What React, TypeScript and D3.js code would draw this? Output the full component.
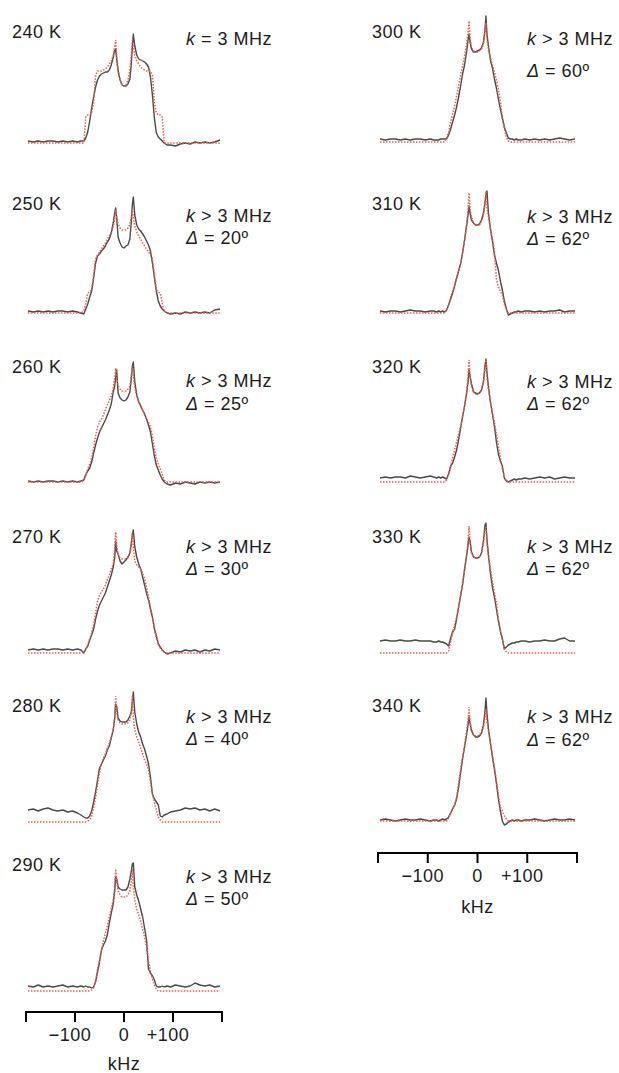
import React from "react";
import * as d3 from "d3";

// Frequency grid (kHz) shared by every spectrum
const kHz = [
  -196, -185, -175, -165, -155, -145, -135, -125, -115, -105, -95, -88,
  -82, -78, -74, -70, -66, -62, -58, -54, -50, -46, -42, -38, -34, -30, -26, -22,
  -19, -17, -15, -12, -8, -4, 0, 4, 8, 12, 15, 17, 19,
  22, 26, 30, 34, 38, 42, 46, 50, 54, 58, 62, 66, 70, 74, 78, 82,
  88, 95, 105, 115, 125, 135, 145, 155, 165, 175, 185, 196,
];

// Experimental spectra (grey) and simulations (red dotted), intensity in arbitrary units
const exp240 = [2,1,2,1,2,2,1,2,1,2,1,2, 2,5,11,22,35,46,56,63,67,69,70,71,71,73,78,86, 93,94,84,72,63,58,57,57,59,64,80,96,109, 97,88,84,83,82,81,79,76,66,48,25,10,6,4,2,0, -2,-2,-3,-1,0,-1,1,0,1,0,1,3];
const fit240 = [0,0,0,0,0,0,0,0,0,0,0,0, 0,26,28,28,30,40,68,72,72,72,73,74,76,79,82,88, 96,103,88,73,63,58,57,58,63,73,88,103,96, 88,82,79,76,74,73,72,72,72,68,40,30,28,28,26,0, 0,0,0,0,0,0,0,0,0,0,0,0];

const exp250 = [2,1,2,1,2,1,2,2,1,2,1,0, -1,4,9,16,22,35,50,57,59,62,64,67,71,74,80,90, 100,105,95,76,70,66,65,67,68,74,92,108,116, 98,88,84,82,79,76,72,68,62,50,36,22,12,7,4,2, 0,-1,0,-1,1,0,1,0,1,0,3,4];
const fit250 = [0,0,0,0,0,0,0,0,0,0,0,0, 2,10,20,21,23,38,54,58,61,64,67,70,74,77,81,87, 95,103,96,89,85,83,83,83,85,89,96,103,95, 87,81,77,74,70,67,64,61,58,54,38,23,21,20,10,2, 0,0,0,0,0,0,0,0,0,0,0,0];

const exp260 = [1,0,1,0,1,1,0,1,0,1,0,1, 2,7,11,14,20,29,37,44,50,54,58,62,67,72,78,90, 96,104,112,89,84,82,81,82,85,90,104,115,120, 100,87,80,76,72,68,63,57,50,38,26,17,12,7,3,0, -2,-3,-1,-2,0,-1,-2,0,-1,0,-1,0];
const fit260 = [0,0,0,0,0,0,0,0,0,0,0,0, 2,8,13,18,24,34,46,55,60,63,67,72,77,81,86,94, 104,114,104,96,93,91,91,91,93,96,106,116,106, 94,86,81,77,72,67,63,60,55,46,34,24,18,13,8,2, 0,0,0,0,0,0,0,0,0,0,0,0];

const exp270 = [3,4,3,4,3,4,4,3,4,3,4,3, 0,4,7,13,18,24,34,42,48,52,56,60,66,72,78,86, 95,112,102,99,92,89,91,93,96,100,110,118,123, 106,96,89,84,76,68,60,53,44,36,24,17,9,6,3,1, -1,0,2,1,3,2,3,1,3,2,4,3];
const fit270 = [0,0,0,0,0,0,0,0,0,0,0,0, 1,3,8,14,20,28,40,52,58,61,64,68,73,78,84,89, 105,121,108,99,95,94,94,94,95,99,108,121,105, 92,88,86,84,80,74,66,56,46,36,26,16,10,5,3,1, 0,0,0,0,0,0,0,0,0,0,0,0];

const exp280 = [12,13,11,13,14,12,11,12,10,11,9,7, 5,4,4,6,11,20,30,42,54,58,62,66,72,76,84,92, 104,118,116,104,101,100,100,100,102,106,110,120,130, 110,98,90,85,78,73,66,58,45,28,23,20,17,6,5,7, 8,10,11,12,14,13,14,12,13,11,13,11];
const fit280 = [0,0,0,0,0,0,0,0,0,0,0,0, 0,0,1,2,6,14,24,38,50,58,64,68,74,79,85,92, 105,126,110,102,99,98,98,98,99,102,110,126,105, 92,85,80,74,68,62,58,52,40,28,20,12,5,2,0,0, 0,0,0,0,0,0,0,0,0,0,0,0];

const exp290 = [5,4,6,4,5,4,5,6,4,5,4,5, 4,5,4,4,3,4,9,19,29,41,46,50,56,68,78,87, 100,114,112,104,102,101,101,101,104,112,120,127,128, 104,96,90,82,74,63,51,22,18,15,11,5,4,4,5,4, 5,4,6,5,4,5,8,6,5,6,4,5];
const fit290 = [0,0,0,0,0,0,0,0,0,0,0,0, 0,0,0,0,1,3,10,22,31,40,50,58,65,74,82,91, 104,122,110,100,96,94,94,94,96,100,110,122,104, 91,82,76,70,62,54,44,30,20,12,6,2,0,0,0,0, 0,0,0,0,0,0,0,0,0,0,0,0];

const exp300 = [3,2,3,3,2,3,2,3,3,2,3,2, 2,2,3,3,3,3,7,13,20,27,35,45,56,68,77,90, 102,108,100,93,90,90,91,92,94,100,112,126,108, 96,82,74,63,54,43,33,24,15,9,4,3,3,2,3,2, 2,3,2,3,2,3,2,3,4,3,2,3];
const fit300 = [0,0,0,0,0,0,0,0,0,0,0,0, 0,0,0,0,0,4,10,20,28,36,46,56,67,76,86,98, 110,121,104,95,91,90,90,91,93,98,110,119,104, 92,84,77,70,62,53,40,24,13,5,1,0,0,0,0,0, 0,0,0,0,0,0,0,0,0,0,0,0];

const exp310 = [2,1,2,2,1,2,3,2,2,1,2,2, 1,2,1,2,1,3,8,14,20,27,35,42,49,60,73,87, 98,107,100,93,90,88,88,89,93,100,110,118,122, 100,84,72,58,50,43,32,23,12,4,-2,-1,0,1,1,2, 1,2,2,1,2,1,2,2,3,1,2,2];
const fit310 = [0,0,0,0,0,0,0,0,0,0,0,0, 0,0,0,0,0,3,8,16,22,28,35,42,50,60,73,88, 104,120,104,96,90,88,88,88,92,98,108,122,106, 96,84,75,62,34,26,22,18,9,3,0,0,0,0,0,0, 0,0,0,0,0,0,0,0,0,0,0,0];

const exp320 = [4,5,4,5,5,4,6,5,4,5,6,5, 4,5,4,5,4,3,8,16,19,25,32,42,54,65,76,88, 100,112,106,98,90,89,88,89,92,100,116,123,110, 95,80,68,56,40,28,21,16,4,1,0,1,2,3,2,3, 3,4,3,4,5,4,5,3,4,5,4,4];
const fit320 = [0,0,0,0,0,0,0,0,0,0,0,0, 0,0,0,0,0,2,8,15,24,32,40,48,56,66,76,90, 106,122,106,96,90,88,88,89,92,100,112,122,104, 92,80,70,60,48,36,24,13,5,1,0,0,0,0,0,0, 0,0,0,0,0,0,0,0,0,0,0,0];

const exp330 = [12,13,12,12,13,12,12,13,12,12,12,11, 11,12,11,11,10,9,7,15,21,24,34,46,57,68,84,97, 108,116,112,101,96,95,95,96,100,112,128,130,114, 98,80,66,56,44,32,22,14,4,6,8,9,10,10,11,11, 12,12,11,12,12,13,12,12,14,15,12,12];
const fit330 = [0,0,0,0,0,0,0,0,0,0,0,0, 0,0,0,0,0,0,2,12,20,28,36,46,58,70,82,98, 112,127,110,100,96,95,95,96,100,110,122,127,110, 96,84,72,60,50,34,22,14,4,1,0,0,0,0,0,0, 0,0,0,0,0,0,0,0,0,0,0,0];

const exp340 = [1,2,1,0,1,2,1,1,2,1,0,1, 1,0,1,2,1,2,4,8,12,16,22,34,48,62,74,86, 96,104,98,90,86,84,84,85,88,96,110,123,108, 92,78,64,52,38,22,10,0,-4,-3,-1,0,1,0,1,1, 0,1,1,2,1,0,1,2,1,1,2,1];
const fit340 = [0,0,0,0,0,0,0,0,0,0,0,0, 0,0,0,0,0,0,3,8,12,16,24,38,52,64,76,90, 102,114,100,92,87,85,85,86,88,94,104,112,100, 90,78,66,54,40,26,14,10,5,2,0,0,0,0,0,0, 0,0,0,0,0,0,0,0,0,0,0,0];

const temperatures = ["240 K", "250 K", "260 K", "270 K", "280 K", "290 K", "300 K", "310 K", "320 K", "330 K", "340 K"];
const rateTexts = [" = 3 MHz", " > 3 MHz", " > 3 MHz", " > 3 MHz", " > 3 MHz", " > 3 MHz", " > 3 MHz", " > 3 MHz", " > 3 MHz", " > 3 MHz", " > 3 MHz"];
const deltaTexts = ["", " = 20º", " = 25º", " = 30º", " = 40º", " = 50º", " = 60º", " = 62º", " = 62º", " = 62º", " = 62º"];
const expSeries = [exp240, exp250, exp260, exp270, exp280, exp290, exp300, exp310, exp320, exp330, exp340];
const fitSeries = [fit240, fit250, fit260, fit270, fit280, fit290, fit300, fit310, fit320, fit330, fit340];

const tickValues = [-200, -100, 0, 100, 200];
const tickLabels = ["", "−100", "0", "+100", ""];
const axisTitle = "kHz";

// ---- layout (positions only) ----
const W = 619;
const H = 1073;
const columns = [
  { x0: 26, x1: 222, axisY: 1012, labelX: 12, textX: 186 },
  { x0: 378, x1: 577, axisY: 853, labelX: 372, textX: 527 },
];
const panelLayout = [
  { col: 0, base: 143, tY: 38, kY: 45, dY: 0 },
  { col: 0, base: 313, tY: 210, kY: 222, dY: 244 },
  { col: 0, base: 482, tY: 373, kY: 387, dY: 410 },
  { col: 0, base: 653, tY: 543, kY: 553, dY: 575 },
  { col: 0, base: 822, tY: 712, kY: 723, dY: 745 },
  { col: 0, base: 991, tY: 871, kY: 883, dY: 905 },
  { col: 1, base: 142, tY: 38, kY: 45, dY: 77 },
  { col: 1, base: 313, tY: 210, kY: 223, dY: 245 },
  { col: 1, base: 482, tY: 373, kY: 388, dY: 410 },
  { col: 1, base: 653, tY: 543, kY: 553, dY: 575 },
  { col: 1, base: 821, tY: 712, kY: 723, dY: 746 },
];

const FONT = "'Liberation Sans', Arial, Helvetica, sans-serif";
const TEXT_COLOR = "#1c1c1c";
const GREY = "#4a4a4a";
const RED = "#f25a48";

function Panel({ i }: { i: number }) {
  const L = panelLayout[i];
  const c = columns[L.col];
  const x = d3.scaleLinear().domain([-200, 200]).range([c.x0, c.x1]);
  const y = d3.scaleLinear().domain([0, 100]).range([L.base, L.base - 100]);
  const line = d3
    .line<number>()
    .x((_, j) => x(kHz[j]))
    .y((v) => y(v));
  const textStyle = { fontFamily: FONT, fontSize: 18, letterSpacing: 0.5, fill: TEXT_COLOR } as const;
  return (
    <g>
      <path d={line(expSeries[i]) || ""} fill="none" stroke={GREY} strokeWidth={1.4} strokeLinejoin="round" />
      <path d={line(fitSeries[i]) || ""} fill="none" stroke={RED} strokeWidth={1.5} strokeDasharray="1.5 1.5" />
      <text x={c.labelX} y={L.tY} style={textStyle}>{temperatures[i]}</text>
      <text x={c.textX} y={L.kY} style={textStyle}>
        <tspan fontStyle="italic">k</tspan>
        {rateTexts[i]}
      </text>
      {deltaTexts[i] ? (
        <text x={c.textX} y={L.dY} style={textStyle}>
          <tspan fontStyle="italic">Δ</tspan>
          {deltaTexts[i]}
        </text>
      ) : null}
    </g>
  );
}

function Axis({ col, labelY, titleY }: { col: number; labelY: number; titleY: number }) {
  const c = columns[col];
  const x = d3.scaleLinear().domain([-200, 200]).range([c.x0, c.x1]);
  const textStyle = { fontFamily: FONT, fontSize: 18, letterSpacing: 0.5, fill: TEXT_COLOR } as const;
  return (
    <g>
      <line x1={x(-200)} x2={x(200)} y1={c.axisY} y2={c.axisY} stroke="#000" strokeWidth={2} strokeLinecap="square" />
      {tickValues.map((t) => (
        <line key={t} x1={x(t)} x2={x(t)} y1={c.axisY} y2={c.axisY + 10} stroke="#000" strokeWidth={2} />
      ))}
      {tickValues.map((t, k) =>
        tickLabels[k] ? (
          <text key={"l" + t} x={x(t) + (t === 0 ? 0 : -5)} y={labelY} textAnchor="middle" style={textStyle}>
            {tickLabels[k]}
          </text>
        ) : null
      )}
      <text x={x(0)} y={titleY} textAnchor="middle" style={textStyle}>{axisTitle}</text>
    </g>
  );
}

export default function App() {
  return (
    <svg
      width={W}
      height={H}
      viewBox={`0 0 ${W} ${H}`}
      style={{ position: "absolute", left: 0, top: 0, background: "#fff" }}
    >
      <rect x={0} y={0} width={W} height={H} fill="#fff" />
      {temperatures.map((_, i) => (
        <Panel key={i} i={i} />
      ))}
      <Axis col={0} labelY={1041} titleY={1070} />
      <Axis col={1} labelY={882} titleY={913} />
    </svg>
  );
}
